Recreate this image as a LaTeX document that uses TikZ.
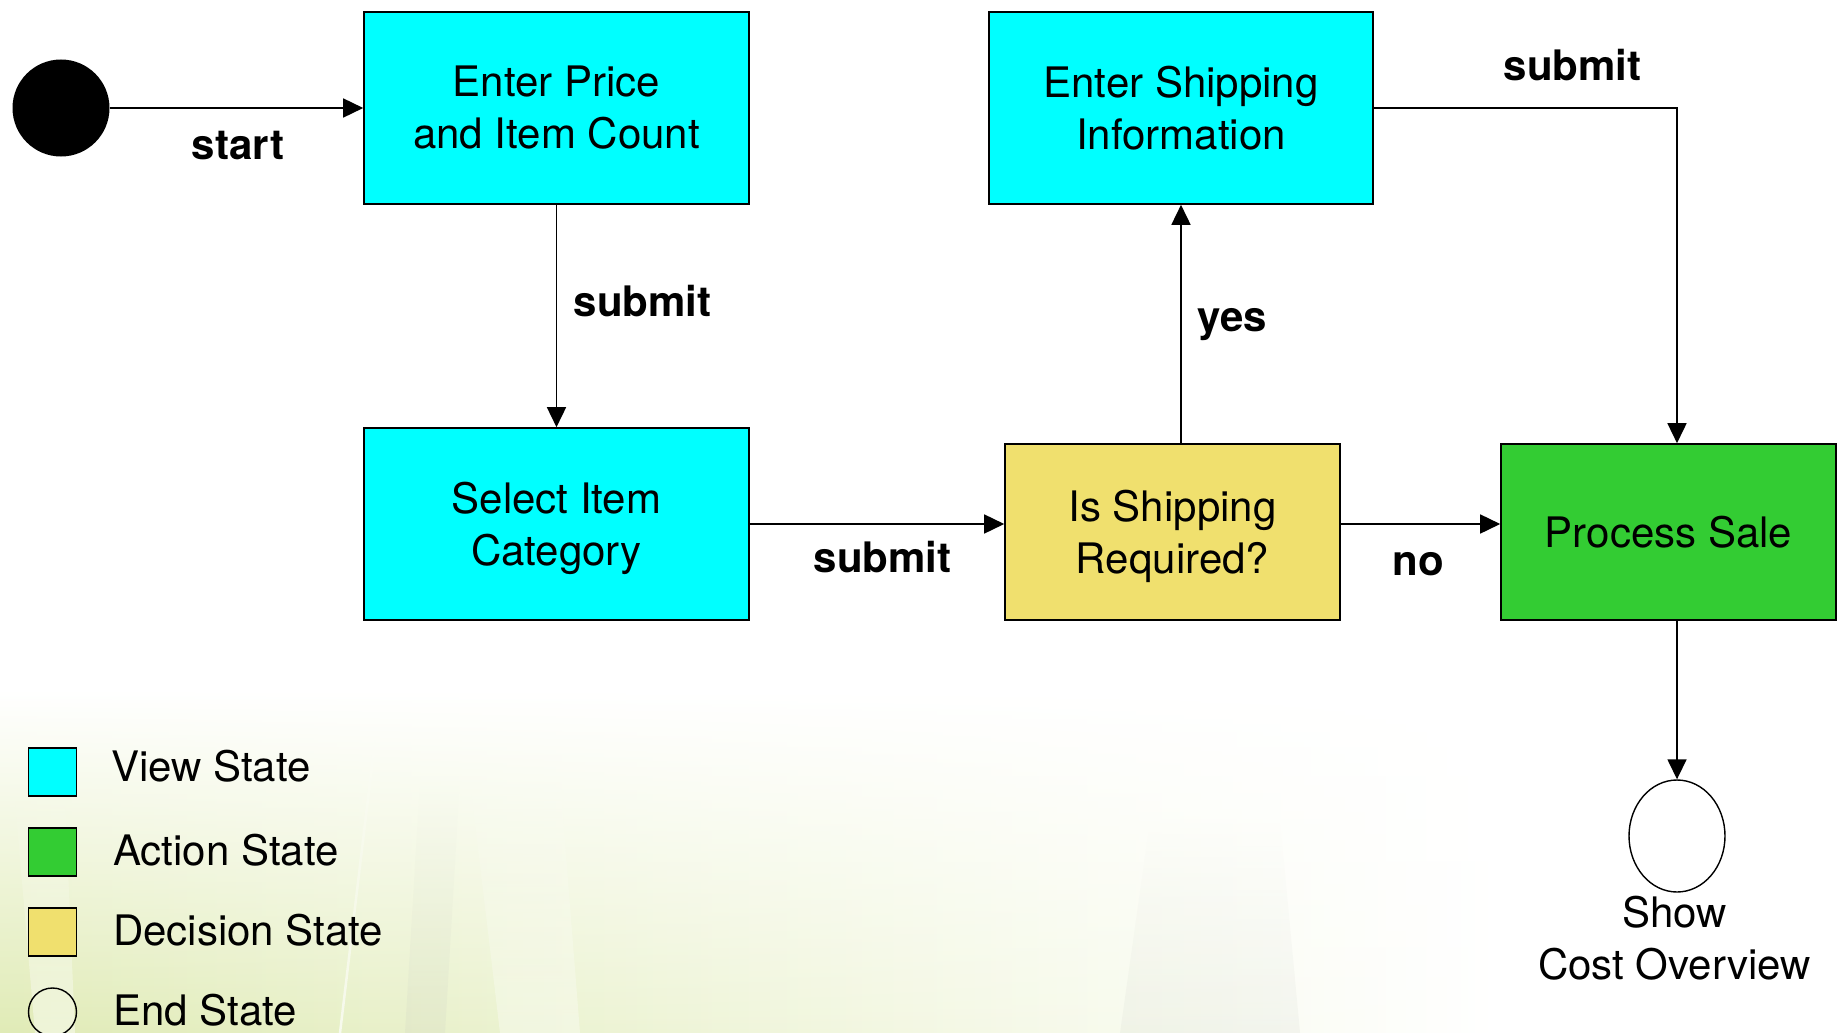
\documentclass[tikz,border=0pt]{standalone}
\usepackage{fontspec}
\setmainfont{TeX Gyre Heros}
\usetikzlibrary{arrows.meta,fadings,shapes.geometric}

\definecolor{viewcol}{RGB}{0,255,255}
\definecolor{actioncol}{RGB}{51,204,51}
\definecolor{decisioncol}{RGB}{240,224,110}
\definecolor{grassA}{RGB}{224,235,182}
\definecolor{grassB}{RGB}{238,242,216}
\definecolor{streakgrey}{RGB}{200,204,196}

\tikzfading[name=hazeup, top color=transparent!100, bottom color=transparent!0]

\begin{document}
\begin{tikzpicture}[x=1pt,y=-1pt,
  every node/.style={font=\fontsize{42}{52}\selectfont, inner sep=0pt},
  statebox/.style={draw=black, line width=1.6pt, align=center},
  viewbox/.style={statebox, fill=viewcol, minimum width=385pt, minimum height=192pt},
  decisionbox/.style={statebox, fill=decisioncol, minimum width=335pt, minimum height=176pt},
  actionbox/.style={statebox, fill=actioncol, minimum width=335pt, minimum height=176pt},
  flow/.style={line width=1.6pt, -{Triangle[length=20pt,width=19pt]}},
  lbl/.style={font=\fontsize{42}{52}\selectfont\bfseries},
  legsq/.style={draw=black, line width=1.6pt, minimum size=48pt},
  legtext/.style={anchor=base west},
]
\useasboundingbox (0,0) rectangle (1837,1033);

% soft grassy backdrop in the lower left
\begin{scope}
  \clip (0,0) rectangle (1837,1033);
  \shade[left color=grassA, middle color=grassB, right color=white, path fading=hazeup]
    (0,690) rectangle (1500,1033);
  \fill[white, opacity=0.45, path fading=hazeup] (15,800) -- (65,800) -- (75,1033) -- (35,1033) -- cycle;
  \fill[streakgrey, opacity=0.18, path fading=hazeup] (420,780) -- (460,780) -- (445,1033) -- (405,1033) -- cycle;
  \fill[white, opacity=0.35, path fading=hazeup] (470,780) -- (560,780) -- (580,1033) -- (500,1033) -- cycle;
  \fill[streakgrey, opacity=0.15, path fading=hazeup] (1150,820) -- (1280,820) -- (1300,1033) -- (1120,1033) -- cycle;
  \draw[white, line width=2.5pt, opacity=0.7, path fading=hazeup] (340,1033) -- (375,740);
\end{scope}

% states
\node[circle, fill=black, minimum size=97pt] (init) at (61,108) {};
\node[viewbox] (price) at (556.5,108) {Enter Price\\and Item Count};
\node[viewbox, text depth=0pt] (category) at (556.5,524) {Select Item\\Category};
\node[decisionbox, text depth=0pt] (decide) at (1172.5,532) {Is Shipping\\Required?};
\node[viewbox, minimum width=384pt] (ship) at (1181,108) {Enter Shipping\\Information};
\node[actionbox] (sale) at (1668.5,532) {Process Sale};
\node[ellipse, draw=black, line width=1.4pt, fill=white, minimum width=96pt, minimum height=112pt] (done) at (1677,836) {};
\node[align=center] (donetext) at (1674.5,938.5) {Show\\Cost Overview};
\coordinate (saleIn) at (done.north |- sale.north);

% transitions
\draw[flow] (init) -- (price);
\draw[flow] (price) -- (category);
\draw[flow] (category.east) -- (category.east -| decide.west);
\draw[flow] (decide.north -| ship.south) -- (ship.south);
\draw[flow] (decide.east |- category.east) -- (sale.west |- category.east);
\draw[flow] (ship.east) -| (saleIn);
\draw[flow] (done.north |- sale.south) -- (done.north);

% transition labels
\node[lbl] (lstart) at (238,146) {start};
\node[lbl] (lsubmitA) at (642.5,301) {submit};
\node[lbl] (lsubmitB) at (882.5,557.5) {submit};
\node[lbl] (lyes) at (1232,325) {yes};
\node[lbl] (lno) at (1418,564) {no};
\node[lbl] (lsubmitC) at (1572.5,65) {submit};

% legend
\node[legsq, fill=viewcol] (kview) at (52.5,772) {};
\node[legsq, fill=actioncol] (kaction) at (52.5,852) {};
\node[legsq, fill=decisioncol] (kdecision) at (52.5,932) {};
\node[circle, draw=black, line width=1.4pt, minimum size=48pt] (kend) at (52.5,1012) {};
\node[legtext] (tview) at (111,781) {View State};
\node[legtext] (taction) at (113,865) {Action State};
\node[legtext] (tdecision) at (113,945) {Decision State};
\node[legtext] (tend) at (113,1025) {End State};
\end{tikzpicture}
\end{document}
